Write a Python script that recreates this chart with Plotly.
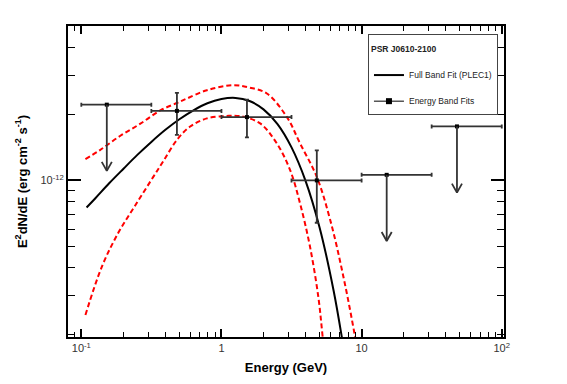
import plotly.graph_objects as go

# ---------------- data ----------------
# Energy band fits (GeV, erg cm^-2 s^-1)
band_center = [0.152, 0.481, 1.52, 4.79, 15.1, 47.9]
band_lo = [0.1, 0.316, 1.0, 3.16, 10.0, 31.6]
band_hi = [0.316, 1.0, 3.16, 10.0, 31.6, 100.0]
band_flux = [2.21e-12, 2.07e-12, 1.94e-12, 1.00e-12, 1.06e-12, 1.76e-12]
band_flux_up = [None, 2.50e-12, 2.33e-12, 1.37e-12, None, None]
band_flux_dn = [None, 1.61e-12, 1.57e-12, 6.42e-13, None, None]
is_upper_limit = [True, False, False, False, True, True]

# Full band fit (PLEC1) curve, flux in units of 1e-12
fit_energy = [0.109, 0.126, 0.158, 0.2, 0.251, 0.316, 0.398, 0.501, 0.631, 0.794,
              1.0, 1.259, 1.585, 1.995, 2.512, 3.162, 3.981, 5.012, 6.31, 7.24, 8.0]
fit_flux = [0.753, 0.830, 0.970, 1.130, 1.306, 1.496, 1.698, 1.897, 2.084, 2.244,
            2.344, 2.371, 2.296, 2.104, 1.803, 1.413, 0.995, 0.611, 0.316, 0.192, 0.127]

# Upper and lower edges of the fit uncertainty band, flux in units of 1e-12
upper_energy = [0.107, 0.136, 0.190, 0.264, 0.366, 0.481, 0.566, 0.787, 1.219, 1.585,
                2.109, 2.924, 3.639, 4.786, 5.970, 7.413, 8.974, 9.77]
upper_flux = [1.250, 1.374, 1.596, 1.811, 2.080, 2.249, 2.355, 2.570, 2.710, 2.642,
              2.483, 1.945, 1.472, 1.038, 0.661, 0.365, 0.195, 0.141]
lower_energy = [0.107, 0.140, 0.184, 0.243, 0.327, 0.386, 0.481, 0.598, 0.787, 1.091,
                1.358, 1.888, 2.483, 3.090, 3.639, 4.285, 4.909, 5.272, 5.754]
lower_flux = [0.2443, 0.4046, 0.5794, 0.7709, 1.040, 1.227, 1.528, 1.758, 1.914, 1.963,
              1.959, 1.816, 1.472, 1.114, 0.7852, 0.4989, 0.2958, 0.1945, 0.112]

x_tick_vals = [0.1, 1, 10, 100]
x_tick_text = ["10<sup>-1</sup>", "1", "10", "10<sup>2</sup>"]
y_tick_vals = [1e-12]
y_tick_text = ["10<sup>-12</sup>"]

FONT = "Liberation Sans, Arial, Helvetica, sans-serif"
ERR_COLOR = "#333333"

scale = 1e-12
fig = go.Figure()

# uncertainty band edges
fig.add_trace(go.Scatter(x=upper_energy, y=[v * scale for v in upper_flux], mode="lines",
                         line=dict(color="#ff0000", width=2, dash="5px,3px", shape="spline"),
                         showlegend=False, hoverinfo="skip"))
fig.add_trace(go.Scatter(x=lower_energy, y=[v * scale for v in lower_flux], mode="lines",
                         line=dict(color="#ff0000", width=2, dash="5px,3px", shape="spline"),
                         showlegend=False, hoverinfo="skip"))
# full band fit
fig.add_trace(go.Scatter(x=fit_energy, y=[v * scale for v in fit_flux], mode="lines",
                         line=dict(color="black", width=2, shape="spline"),
                         name="<br>Full Band Fit (PLEC1)", legendgroup="a"))

# detections
det = [i for i, ul in enumerate(is_upper_limit) if not ul]
fig.add_trace(go.Scatter(
    x=[band_center[i] for i in det], y=[band_flux[i] for i in det], mode="markers",
    marker=dict(symbol="square", size=4, color="black"),
    error_x=dict(type="data", symmetric=False,
                 array=[band_hi[i] - band_center[i] for i in det],
                 arrayminus=[band_center[i] - band_lo[i] for i in det],
                 color=ERR_COLOR, thickness=1.8, width=2),
    error_y=dict(type="data", symmetric=False,
                 array=[band_flux_up[i] - band_flux[i] for i in det],
                 arrayminus=[band_flux[i] - band_flux_dn[i] for i in det],
                 color=ERR_COLOR, thickness=1.8, width=2),
    showlegend=False))

# upper limits
uls = [i for i, ul in enumerate(is_upper_limit) if ul]
fig.add_trace(go.Scatter(
    x=[band_center[i] for i in uls], y=[band_flux[i] for i in uls], mode="markers",
    marker=dict(symbol="square", size=4, color="black"),
    error_x=dict(type="data", symmetric=False,
                 array=[band_hi[i] - band_center[i] for i in uls],
                 arrayminus=[band_center[i] - band_lo[i] for i in uls],
                 color=ERR_COLOR, thickness=1.8, width=2),
    showlegend=False))

# down arrows for upper limits (from the value to half the value)
ax, ay = [], []
head_dx, head_dy = 10 ** 0.036, 10 ** 0.041
for i in uls:
    e, f = band_center[i], band_flux[i]
    tip = f / 2
    ax += [e, e, None, e / head_dx, e, e * head_dx, None]
    ay += [f, tip, None, tip * head_dy, tip, tip * head_dy, None]
fig.add_trace(go.Scatter(x=ax, y=ay, mode="lines", line=dict(color=ERR_COLOR, width=1.8),
                         showlegend=False, hoverinfo="skip"))

# legend entry for the energy band fits
fig.add_trace(go.Scatter(x=[None], y=[None], mode="lines+markers",
                         line=dict(color="black", width=1),
                         marker=dict(symbol="square", size=6, color="black"),
                         name="<br>Energy Band Fits", legendgroup="b"))

axis_common = dict(type="log", showgrid=False, zeroline=False, showline=True,
                   linecolor="black", linewidth=2, mirror="ticks", ticks="inside",
                   tickcolor="black", tickwidth=1.5, automargin=False,
                   tickfont=dict(family=FONT, size=11, color="#333333"))

# the page body adds an 8px offset, so the figure is drawn 8px smaller
fig.update_layout(
    width=559, height=376,
    margin=dict(l=60, r=63, t=18, b=47),
    paper_bgcolor="white", plot_bgcolor="white",
    font=dict(family=FONT, color="black"),
    xaxis=dict(**axis_common, range=[-1.095, 2.016], tickmode="array",
               tickvals=x_tick_vals, ticktext=x_tick_text, ticklen=8,
               minor=dict(ticks="inside", ticklen=5, tickcolor="black", tickwidth=1,
                          tickmode="array",
                          tickvals=[0.09] + [k * d for d in (0.1, 1, 10) for k in range(2, 10)]),
               title=dict(text="<b>Energy (GeV)</b>", font=dict(family=FONT, size=13),
                          standoff=10)),
    yaxis=dict(**axis_common, range=[-12.712, -11.298], tickmode="array",
               tickvals=y_tick_vals, ticktext=y_tick_text, ticklen=13,
               minor=dict(ticks="inside", ticklen=7, tickcolor="black", tickwidth=1,
                          tickmode="array",
                          tickvals=[k * 1e-13 for k in range(2, 10)] + [k * 1e-12 for k in range(2, 6)]),
               title=dict(text="<b>E<sup>2</sup>dN/dE (erg cm<sup>-2</sup> s<sup>-1</sup>)</b>",
                          font=dict(family=FONT, size=13), standoff=10)),
    legend=dict(x=0.688, y=0.974, xanchor="left", yanchor="top",
                bordercolor="#444444", borderwidth=1, bgcolor="white",
                font=dict(family=FONT, size=8.5, color="#222222"),
                title=dict(text="<span style='font-size:8.5px'><b>PSR J0610-2100</b></span>",
                           font=dict(family=FONT, size=13)),
                traceorder="grouped", tracegroupgap=1, itemwidth=30, valign="bottom"),
)

fig.write_html("out.html")
